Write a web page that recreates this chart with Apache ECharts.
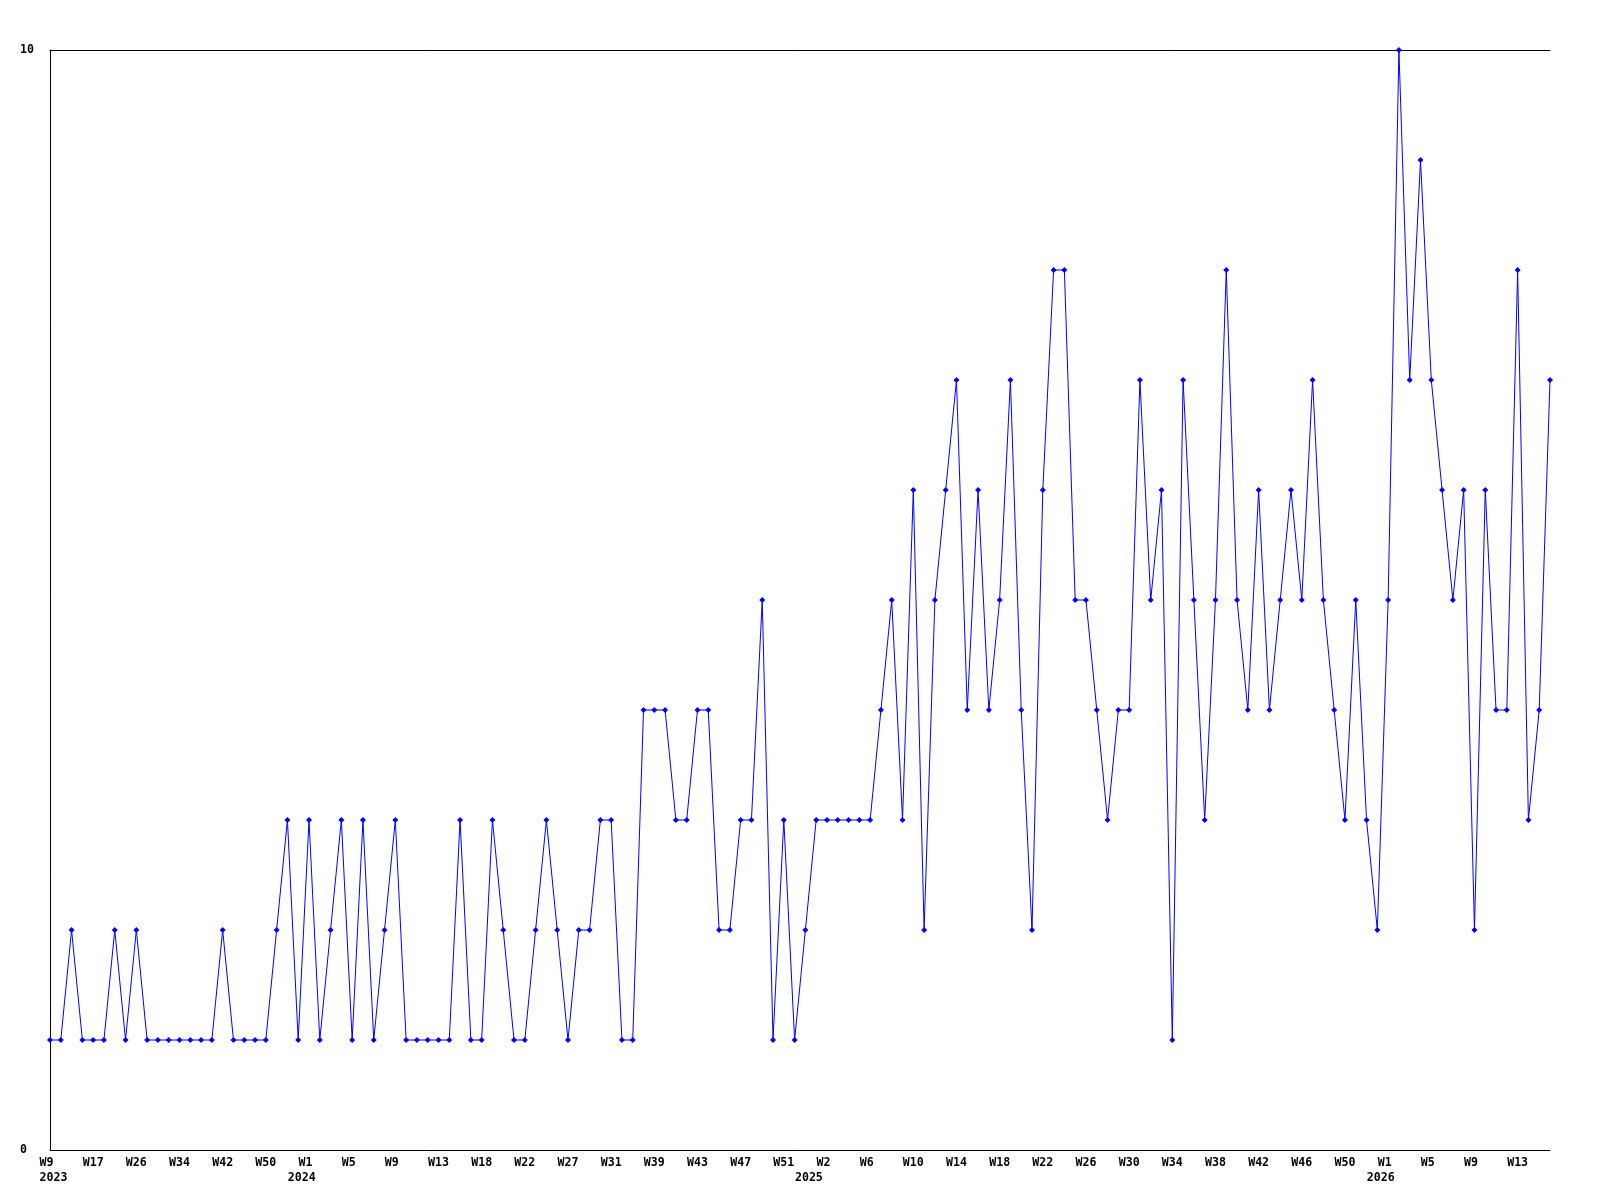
<!DOCTYPE html>
<html>
<head>
<meta charset="utf-8">
<script src="https://cdn.jsdelivr.net/npm/echarts@6/dist/echarts.min.js"></script>
<style>
html,body{margin:0;padding:0;background:#fff;}
#chart{width:1600px;height:1200px;}
</style>
</head>
<body>
<div id="chart"></div>
<script>
// Weekly values, one per data week (140 weeks)
const values = [
  1,1,2,1,1,1,2,1,2,1,1,1,1,1,1,1,2,1,1,1,1,2,3,1,3,1,2,
  3,1,3,1,2,3,1,1,1,1,1,3,1,1,3,2,1,1,2,3,2,1,2,2,3,3,1,1,
  4,4,4,3,3,4,4,2,2,3,3,5,1,3,1,2,3,3,3,3,3,3,4,5,3,
  6,2,5,6,7,4,6,4,5,7,4,2,6,8,8,
  5,5,4,3,4,4,7,5,6,1,7,5,3,5,8,5,
  4,6,4,5,6,5,7,5,4,3,5,3,2,5,
  10,7,9,7,6,5,6,2,6,4,4,8,3,4,7
];

// Week tick labels, shown on every 4th data week
const tickLabels = [
  'W9','W17','W26','W34','W42','W50','W1','W5','W9','W13','W18','W22',
  'W27','W31','W39','W43','W47','W51','W2','W6','W10','W14','W18','W22',
  'W26','W30','W34','W38','W42','W46','W50','W1','W5','W9','W13'
];

// Year labels and the data week where each year label sits
const yearLabels = ['2023','2024','2025','2026'];
const yearStartIndex = [0, 23, 70, 123];

// Y tick labels
const yTickLabels = ['0','10'];

const categories = values.map((v, i) => String(i));

const font = {
  fontFamily: 'DejaVu Sans Mono',
  fontWeight: 'bold',
  fontSize: 11.6,
  color: '#000'
};

const chart = echarts.init(document.getElementById('chart'), null, {renderer: 'canvas'});
chart.setOption({
  animation: false,
  backgroundColor: '#fff',
  grid: {left: 50, right: 50, top: 50, bottom: 50, containLabel: false},
  xAxis: [
    {
      type: 'category',
      data: categories,
      boundaryGap: false,
      position: 'bottom',
      axisLine: {show: true, lineStyle: {color: '#000', width: 1}},
      axisTick: {show: false},
      splitLine: {show: false},
      axisLabel: Object.assign({
        interval: 3,
        margin: 6,
        lineHeight: 14.5,
        formatter: (v, i) => (i % 4 === 0 && tickLabels[i / 4] !== undefined)
          ? (tickLabels[i / 4].length < 3 ? tickLabels[i / 4] + ' ' : tickLabels[i / 4]) : ''
      }, font)
    },
    {
      type: 'category',
      data: categories,
      boundaryGap: false,
      position: 'bottom',
      offset: 14.5,
      axisLine: {show: false},
      axisTick: {show: false},
      splitLine: {show: false},
      axisLabel: Object.assign({
        interval: (i) => yearStartIndex.indexOf(i) >= 0,
        margin: 6,
        lineHeight: 14.5,
        formatter: (v, i) => {
          const k = yearStartIndex.indexOf(i);
          return k >= 0 ? ' ' + yearLabels[k] : '';
        }
      }, font)
    },
    {
      type: 'category',
      data: categories,
      boundaryGap: false,
      position: 'top',
      axisLine: {show: true, lineStyle: {color: '#000', width: 1}},
      axisTick: {show: false},
      axisLabel: {show: false},
      splitLine: {show: false}
    }
  ],
  yAxis: {
    type: 'value',
    min: 0,
    max: 10,
    interval: 10,
    axisLine: {show: true, lineStyle: {color: '#000', width: 1}},
    axisTick: {show: false},
    splitLine: {show: false},
    axisLabel: Object.assign({
      align: 'left',
      margin: 30,
      padding: [4, 0, 0, 0],
      formatter: (v) => {
        const s = String(v);
        return yTickLabels.indexOf(s) >= 0 ? s : '';
      }
    }, font)
  },
  series: [{
    type: 'line',
    xAxisIndex: 0,
    data: values,
    symbol: 'diamond',
    symbolSize: 6,
    showSymbol: true,
    lineStyle: {color: '#0000ff', width: 1},
    itemStyle: {color: '#0000ff'},
    emphasis: {disabled: true}
  }]
});
</script>
</body>
</html>
